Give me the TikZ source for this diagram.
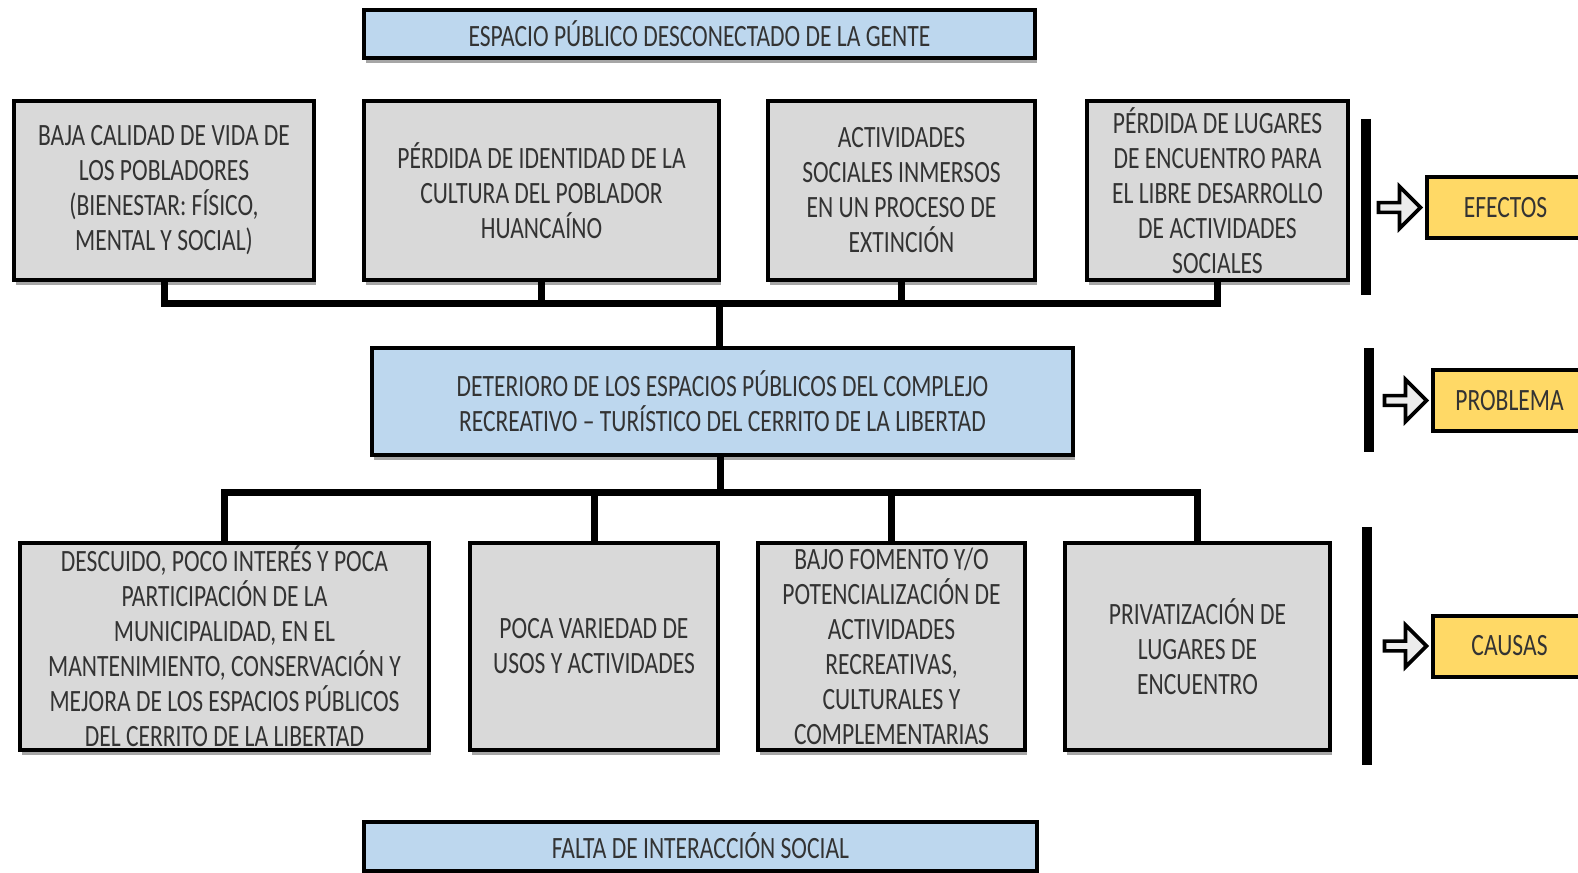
\documentclass[tikz,border=0pt]{standalone}
\usepackage{fontspec}
\setmainfont{Carlito}[FakeStretch=0.76]
\usetikzlibrary{positioning,shadows,shapes.arrows}

\definecolor{boxgray}{HTML}{D9D9D9}
\definecolor{boxblue}{HTML}{BDD7EE}
\definecolor{tagyellow}{HTML}{FFD966}
\definecolor{txtgray}{HTML}{333333}

\tikzset{
  txt/.style={font=\fontsize{15.5}{17.5}\selectfont,align=center,text=txtgray},
  graybox/.style={txt,draw,line width=2pt,fill=boxgray,inner sep=0pt,
    drop shadow={shadow xshift=1pt,shadow yshift=-2.5pt,opacity=0.35,fill=black}},
  bluebox/.style={graybox,fill=boxblue},
  tag/.style={txt,draw,line width=2pt,fill=tagyellow,inner sep=0pt,anchor=west,
    minimum height=30.5pt},
  hollow/.style={single arrow,draw,line width=1.8pt,fill=gray!15,inner sep=0pt,
    minimum height=21pt,minimum width=21pt,single arrow head extend=3pt},
  link/.style={line width=3.5pt},
  bar/.style={line width=5pt}
}

\begin{document}
\begin{tikzpicture}[x=0.5pt,y=-0.5pt]
  \useasboundingbox (0,0) rectangle (1578,872);
  \clip (0,0) rectangle (1578,872);

  % efectos
  \node[bluebox,minimum width=335.5pt,minimum height=24pt] (gente) at (699.5,34) {ESPACIO PÚBLICO DESCONECTADO DE LA GENTE};
  \node[graybox,minimum width=150pt,minimum height=89.5pt] (ef1) at (164,190.5) {BAJA CALIDAD DE VIDA DE\\LOS POBLADORES\\(BIENESTAR: FÍSICO,\\MENTAL Y SOCIAL)};
  \node[graybox,minimum width=177.5pt,minimum height=89.5pt] (ef2) at (541.5,190.5) {PÉRDIDA DE IDENTIDAD DE LA\\CULTURA DEL POBLADOR\\HUANCAÍNO};
  \node[graybox,minimum width=133.5pt,minimum height=89.5pt] (ef3) at (901.5,190.5) {ACTIVIDADES\\SOCIALES INMERSOS\\EN UN PROCESO DE\\EXTINCIÓN};
  \node[graybox,minimum width=130.5pt,minimum height=89.5pt] (ef4) at (1217.5,190.5) {PÉRDIDA DE LUGARES\\DE ENCUENTRO PARA\\EL LIBRE DESARROLLO\\DE ACTIVIDADES\\SOCIALES};

  % problema
  \node[bluebox,minimum width=350.5pt,minimum height=53.5pt] (prob) at (722.5,401.5) {DETERIORO DE LOS ESPACIOS PÚBLICOS DEL COMPLEJO\\RECREATIVO – TURÍSTICO DEL CERRITO DE LA LIBERTAD};

  % causas
  \node[graybox,minimum width=204.5pt,minimum height=103.5pt] (ca1) at (224.5,646.5) {DESCUIDO, POCO INTERÉS Y POCA\\PARTICIPACIÓN DE LA\\MUNICIPALIDAD, EN EL\\MANTENIMIENTO, CONSERVACIÓN Y\\MEJORA DE LOS ESPACIOS PÚBLICOS\\DEL CERRITO DE LA LIBERTAD};
  \node[graybox,minimum width=124pt,minimum height=103.5pt] (ca2) at (594,646.5) {POCA VARIEDAD DE\\USOS Y ACTIVIDADES};
  \node[graybox,minimum width=133.5pt,minimum height=103.5pt] (ca3) at (891.5,646.5) {BAJO FOMENTO Y/O\\POTENCIALIZACIÓN DE\\ACTIVIDADES\\RECREATIVAS,\\CULTURALES Y\\COMPLEMENTARIAS};
  \node[graybox,minimum width=132.5pt,minimum height=103.5pt] (ca4) at (1197.5,646.5) {PRIVATIZACIÓN DE\\LUGARES DE\\ENCUENTRO};
  \node[bluebox,minimum width=336.5pt,minimum height=24.5pt] (social) at (700.5,846) {FALTA DE INTERACCIÓN SOCIAL};

  % conectores
  \coordinate (busE) at (719,303);
  \coordinate (busC) at (720,492);
  \draw[link] (ef1.south) -- (ef1.south |- busE) -- (ef4.south |- busE) -- (ef4.south);
  \draw[link] (ef2.south) -- (ef2.south |- busE);
  \draw[link] (ef3.south) -- (ef3.south |- busE);
  \draw[link] (busE) -- (busE |- prob.north);
  \draw[link] (busC |- prob.south) -- (busC);
  \draw[link] (ca1.north) -- (ca1.north |- busC) -- (ca4.north |- busC) -- (ca4.north);
  \draw[link] (ca2.north) -- (ca2.north |- busC);
  \draw[link] (ca3.north) -- (ca3.north |- busC);

  % barras y etiquetas
  \coordinate (barE1) at (1366,119);
  \coordinate (barE2) at (1366,295);
  \coordinate (barP1) at (1369,348);
  \coordinate (barP2) at (1369,452);
  \coordinate (barC1) at (1367,527);
  \coordinate (barC2) at (1367,765);
  \draw[bar] (barE1) -- (barE2);
  \draw[bar] (barP1) -- (barP2);
  \draw[bar] (barC1) -- (barC2);

  \node[tag,minimum width=78.5pt] (efectos) at (1425,207.5) {EFECTOS};
  \node[tag,minimum width=76.5pt] (problema) at (1431,400.5) {PROBLEMA};
  \node[tag,minimum width=76.5pt] (causas) at (1431,646) {CAUSAS};
  \node[hollow,left=1pt of efectos] (arrE) {};
  \node[hollow,left=1pt of problema] (arrP) {};
  \node[hollow,left=1pt of causas] (arrC) {};
\end{tikzpicture}
\end{document}
